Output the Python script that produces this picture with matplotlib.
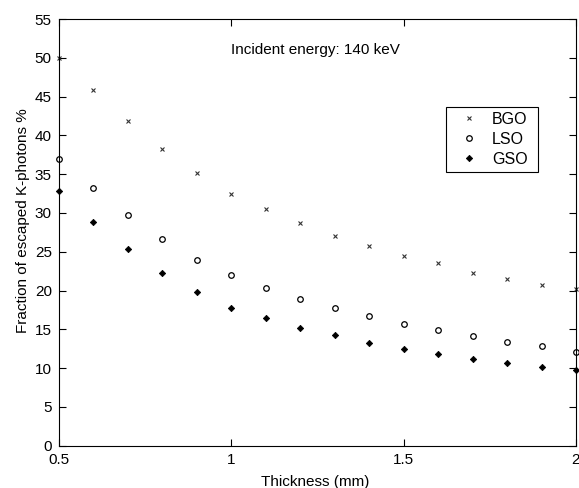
import matplotlib
matplotlib.use("Agg")
import matplotlib.pyplot as plt
from matplotlib.patches import Rectangle

thickness = [0.5, 0.6, 0.7, 0.8, 0.9, 1.0, 1.1, 1.2, 1.3, 1.4, 1.5, 1.6, 1.7, 1.8, 1.9, 2.0]
bgo = [50.0, 45.8, 41.8, 38.3, 35.2, 32.5, 30.5, 28.7, 27.0, 25.7, 24.4, 23.5, 22.3, 21.5, 20.7, 20.2]
lso = [37.0, 33.2, 29.7, 26.6, 23.9, 22.0, 20.3, 18.9, 17.8, 16.7, 15.7, 14.9, 14.1, 13.4, 12.8, 12.1]
gso = [32.8, 28.9, 25.4, 22.3, 19.8, 17.8, 16.4, 15.2, 14.3, 13.3, 12.5, 11.8, 11.2, 10.6, 10.1, 9.8]
xticks = [0.5, 1, 1.5, 2]
xticklabels = ["0.5", "1", "1.5", "2"]
yticks = list(range(0, 56, 5))

plt.rcParams['font.family'] = ['Liberation Sans', 'DejaVu Sans']

fig = plt.figure(figsize=(5.79, 4.88), dpi=100)
ax = fig.add_axes([0.1014, 0.0867, 0.8934, 0.8743])

ax.plot(thickness, bgo, linestyle='none', marker='x', ms=3, mew=0.8, color='#333333',
        label='BGO', clip_on=False)
ax.plot(thickness, lso, linestyle='none', marker='o', ms=4, mew=0.9, mfc='none',
        color='black', label='LSO', clip_on=False)
ax.plot(thickness, gso, linestyle='none', marker='D', ms=3.2, mew=0.6, color='black',
        label='GSO', clip_on=False)

ax.set_xlim(0.5, 2)
ax.set_ylim(0, 55)
ax.set_xticks(xticks)
ax.set_xticklabels(xticklabels)
ax.set_yticks(yticks)
ax.tick_params(direction='in', length=5, width=0.8, top=True, right=True,
               labelsize=11, pad=5)
for s in ax.spines.values():
    s.set_linewidth(0.8)

ax.set_xlabel('Thickness (mm)', fontsize=11)
ax.set_ylabel('Fraction of escaped K-photons %', fontsize=11)
ax.xaxis.set_label_coords(0.496, -0.069)
ax.yaxis.set_label_coords(-0.0564, 0.5266)

ax.text(1.0, 51, 'Incident energy: 140 keV', fontsize=11, ha='left', va='center')

leg = ax.legend(loc='upper left', bbox_to_anchor=(0.7526, 0.782), borderaxespad=0,
                fontsize=11.5, frameon=False, handlelength=2.6, handletextpad=0.15,
                borderpad=0, labelspacing=0.31)
fig.patches.append(Rectangle((0.7703, 0.6475), 0.1589, 0.1332, transform=fig.transFigure,
                             fill=False, edgecolor='black', linewidth=0.8, figure=fig))

fig.savefig('out.png', dpi=100)
